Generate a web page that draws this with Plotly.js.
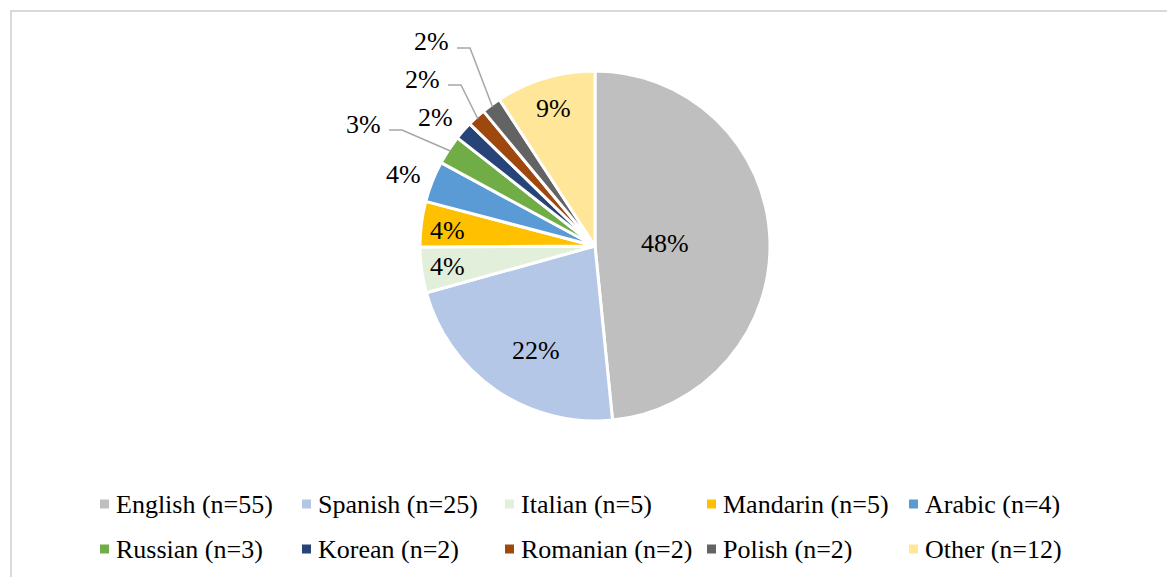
<!DOCTYPE html>
<html>
<head>
<meta charset="utf-8">
<script src="https://cdn.plot.ly/plotly-3.0.1.min.js"></script>
<style>
  html, body { margin: 0; padding: 0; background: #fff; overflow: hidden; }
  #frame { position: absolute; left: 10px; top: 10px; width: 1170px; height: 580px; border: 2px solid #d9d9d9; box-sizing: border-box; }
  #chart { position: absolute; left: 0; top: 0; width: 1167px; height: 577px; }
</style>
</head>
<body>
<div id="frame"></div>
<div id="chart"></div>
<script>
// Languages and participant counts (from legend)
const languages = ["English", "Spanish", "Italian", "Mandarin", "Arabic", "Russian", "Korean", "Romanian", "Polish", "Other"];
const counts = [55, 25, 5, 5, 4, 3, 2, 2, 2, 12];
// Slice shares (percent)
const shares = [48.4, 22.3, 4.2, 4.2, 3.8, 2.7, 1.7, 1.7, 1.8, 9.2];
const colors = ["#bfbfbf", "#b4c7e7", "#e2efda", "#ffc000", "#5b9bd5", "#70ad47", "#264478", "#9e480e", "#636363", "#ffe699"];

const FONT = "'Times New Roman', 'Liberation Serif', Tinos, 'DejaVu Serif', serif";
const W = 1167, H = 577, MT = 71, MB = 156;
const PIE = { cx: 595, cy: 246, r: 175 };
const fx = x => x / W;                       // pixel -> paper x
const fy = y => (H - MB - y) / (H - MT - MB); // pixel -> paper y

const total = shares.reduce((a, b) => a + b, 0);
const pctText = shares.map(s => Math.round(s / total * 100) + "%");
const legendLabels = languages.map((l, i) => l + " (n=" + counts[i] + ")");

// Data-label placement (pixel centres) and which labels get a leader line
const labelPos = [[665, 243], [536, 350], [447, 266], [447, 230], [403, 174], [363, 124], [435, 117], [422, 79], [431, 42], [553, 108]];
const hasLeader = [false, false, false, false, false, true, false, true, true, false];

const trace = {
  type: "pie",
  labels: legendLabels,
  values: shares,
  sort: false,
  direction: "clockwise",
  rotation: 0,
  marker: { colors: colors, line: { color: "#ffffff", width: 3 } },
  textinfo: "none",
  hoverinfo: "label+percent",
  showlegend: false,
  domain: { x: [fx(PIE.cx - 187), fx(PIE.cx + 187)], y: [0, 1] }
};

const annotations = [];
const shapes = [];

// Data labels
let cum = 0;
shares.forEach((s, i) => {
  const mid = (cum + s / 2) / total * 2 * Math.PI;
  cum += s;
  const [lx, ly] = labelPos[i];
  annotations.push({
    xref: "paper", yref: "paper", x: fx(lx), y: fy(ly),
    xanchor: "center", yanchor: "middle", showarrow: false,
    text: pctText[i],
    font: { family: FONT, size: 26, color: "#000000" }
  });
  if (hasLeader[i]) {
    const ex = PIE.cx + (PIE.r - 2) * Math.sin(mid);
    const ey = PIE.cy - (PIE.r - 2) * Math.cos(mid);
    const sx = lx + 26, sy = ly + 6, bx = sx + 13;
    shapes.push({
      type: "path", xref: "paper", yref: "paper",
      path: `M ${fx(sx)} ${fy(sy)} L ${fx(bx)} ${fy(sy)} L ${fx(ex)} ${fy(ey)}`,
      line: { color: "#a6a6a6", width: 1.5 }
    });
  }
});

// Legend (2 rows x 5 columns)
const colLeft = [100, 302, 505, 707, 909];
const rowY = [504, 549];
legendLabels.forEach((lab, i) => {
  const c = i % 5, r = Math.floor(i / 5);
  const x0 = colLeft[c], yc = rowY[r];
  shapes.push({
    type: "rect", xref: "paper", yref: "paper",
    x0: fx(x0), x1: fx(x0 + 9), y0: fy(yc - 4.5), y1: fy(yc + 4.5),
    fillcolor: colors[i], line: { width: 0 }
  });
  annotations.push({
    xref: "paper", yref: "paper", x: fx(x0 + 14), y: fy(yc),
    xanchor: "left", yanchor: "middle", showarrow: false,
    text: lab,
    font: { family: FONT, size: 26, color: "#000000" }
  });
});

const layout = {
  width: W,
  height: H,
  margin: { l: 0, r: 0, t: MT, b: MB, autoexpand: false },
  paper_bgcolor: "rgba(0,0,0,0)",
  plot_bgcolor: "rgba(0,0,0,0)",
  font: { family: FONT, size: 26, color: "#000000" },
  showlegend: false,
  annotations: annotations,
  shapes: shapes
};

Plotly.newPlot("chart", [trace], layout, { displayModeBar: false, staticPlot: true });
</script>
</body>
</html>
